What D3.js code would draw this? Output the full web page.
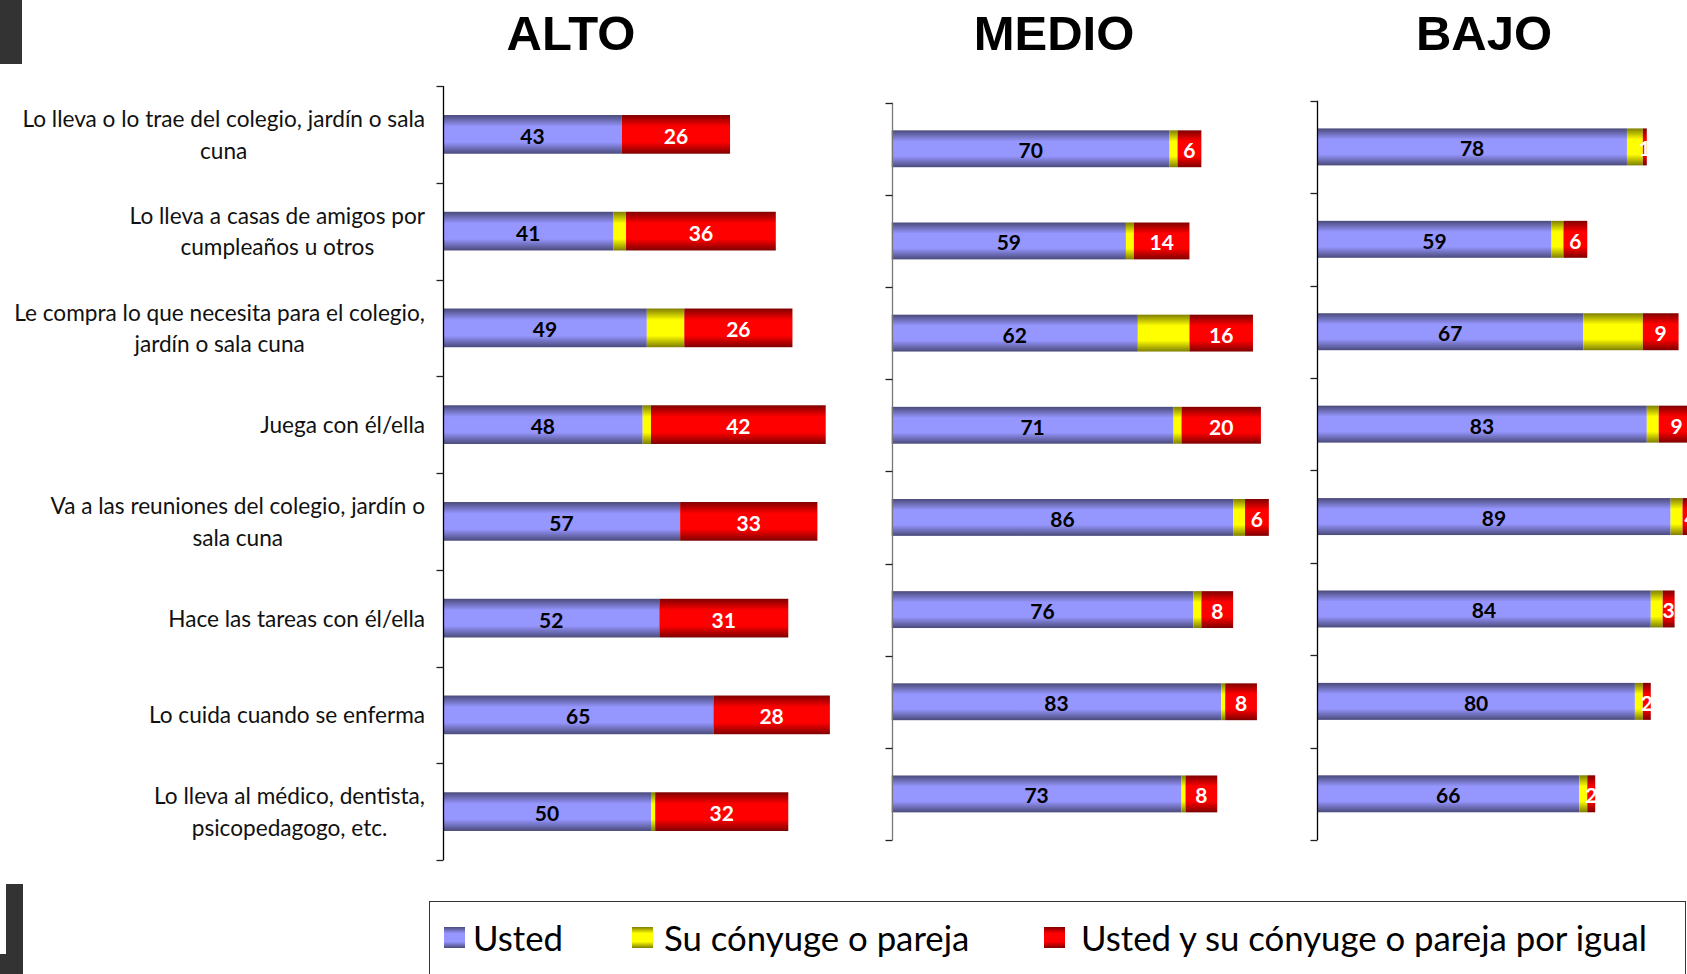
<!DOCTYPE html>
<html><head><meta charset="utf-8">
<script src="https://cdn.jsdelivr.net/npm/d3@7"></script>
<style>body{margin:0;background:#fff;overflow:hidden}svg{display:block}</style>
</head><body><svg id="c" width="1687" height="974"></svg>
<script>
// ---------- DATA ----------
const categoryLabels = [
  ["Lo lleva o lo trae del colegio, jardín o sala", "cuna"],
  ["Lo lleva a casas de amigos por", "cumpleaños u otros"],
  ["Le compra lo que necesita para el colegio,", "jardín o sala cuna"],
  ["Juega con él/ella"],
  ["Va a las reuniones del colegio, jardín o", "sala cuna"],
  ["Hace las tareas con él/ella"],
  ["Lo cuida cuando se enferma"],
  ["Lo lleva al médico, dentista,", "psicopedagogo, etc."]
];
const panelTitles = ["ALTO", "MEDIO", "BAJO"];
const seriesNames = ["Usted", "Su cónyuge o pareja", "Usted y su cónyuge o pareja por igual"];

const ustedAlto   = [43, 41, 49, 48, 57, 52, 65, 50];
const conyugeAlto = [0, 3, 9, 2, 0, 0, 0, 1];
const igualAlto   = [26, 36, 26, 42, 33, 31, 28, 32];

const ustedMedio   = [70, 59, 62, 71, 86, 76, 83, 73];
const conyugeMedio = [2, 2, 13, 2, 3, 2, 1, 1];
const igualMedio   = [6, 14, 16, 20, 6, 8, 8, 8];

const ustedBajo   = [78, 59, 67, 83, 89, 84, 80, 66];
const conyugeBajo = [4, 3, 15, 3, 3, 3, 2, 2];
const igualBajo   = [1, 6, 9, 9, 4, 3, 2, 2];

// ---------- LAYOUT ----------
const svg = d3.select("#c");
const W = 1687, H = 974;
svg.append("rect").attr("width", W).attr("height", H).attr("fill", "#fff");

const keys = ["usted", "conyuge", "igual"];
const colors = {
  usted:   {dark: "#4a4a7a", light: "#9696ff"},
  conyuge: {dark: "#7f7f00", light: "#ffff00"},
  igual:   {dark: "#7f0000", light: "#ff0000"}
};
const defs = svg.append("defs");
keys.forEach(k => {
  const g = defs.append("linearGradient").attr("id", "g-" + k)
    .attr("x1", 0).attr("y1", 0).attr("x2", 0).attr("y2", 1);
  [[0, colors[k].dark], [0.3, colors[k].light], [0.7, colors[k].light], [1, colors[k].dark]]
    .forEach(([o, c]) => g.append("stop").attr("offset", o).attr("stop-color", c));
});

function rows(u, c, i) {
  return u.map((v, j) => ({cat: j, usted: v, conyuge: c[j], igual: i[j]}));
}
const panels = [
  {title: panelTitles[0], data: rows(ustedAlto, conyugeAlto, igualAlto),
   xr: [443, 859], yr: [86, 860], titleX: 571, axisColor: "#000"},
  {title: panelTitles[1], data: rows(ustedMedio, conyugeMedio, igualMedio),
   xr: [891.7, 1288.7], yr: [102.7, 840], titleX: 1054, axisColor: "#777"},
  {title: panelTitles[2], data: rows(ustedBajo, conyugeBajo, igualBajo),
   xr: [1317.3, 1714.3], yr: [100.7, 840], titleX: 1484, axisColor: "#000"}
];

const stack = d3.stack().keys(keys);
const catIdx = d3.range(categoryLabels.length);

panels.forEach((p, pi) => {
  const x = d3.scaleLinear().domain([0, 100]).range(p.xr);
  const y = d3.scaleBand().domain(catIdx).range(p.yr).paddingInner(0.6).paddingOuter(0.3);
  const g = svg.append("g");

  // title
  svg.append("text").attr("x", p.titleX).attr("y", 50)
    .attr("text-anchor", "middle")
    .style("font-family", "'Liberation Sans', Arial, sans-serif")
    .style("font-weight", "bold").style("font-size", "49px")
    .text(p.title);

  // bars
  const series = stack(p.data);
  series.forEach(s => {
    g.selectAll(null).data(s).join("rect")
      .attr("x", d => x(d[0]))
      .attr("y", d => y(d.data.cat))
      .attr("width", d => Math.max(0, x(d[1]) - x(d[0])))
      .attr("height", y.bandwidth())
      .attr("fill", "url(#g-" + s.key + ")");
  });
  // value labels (usted & igual)
  series.filter(s => s.key !== "conyuge").forEach(s => {
    g.selectAll(null).data(s.filter(d => d[1] - d[0] > 0)).join("text")
      .attr("x", d => (x(d[0]) + x(d[1])) / 2)
      .attr("y", d => y(d.data.cat) + y.bandwidth() / 2)
      .attr("dy", "0.45em")
      .attr("text-anchor", "middle")
      .style("font-family", "Lato, 'Open Sans', sans-serif")
      .style("font-weight", "bold").style("font-size", "21px")
      .attr("fill", s.key === "usted" ? "#000" : "#fff")
      .text(d => d3.format(".0f")(d[1] - d[0]));
  });

  // axis
  const ax = svg.append("g");
  const x0 = Math.round(p.xr[0]) + 0.5;
  ax.append("line").attr("x1", x0).attr("x2", x0)
    .attr("y1", p.yr[0]).attr("y2", p.yr[1])
    .attr("stroke", p.axisColor).attr("stroke-width", 1.3);
  d3.range(categoryLabels.length + 1).forEach(i => {
    const ty = Math.round(p.yr[0] + i * y.step()) + 0.5;
    ax.append("line").attr("x1", x0 - 7).attr("x2", x0)
      .attr("y1", ty).attr("y2", ty).attr("stroke", "#222").attr("stroke-width", 1.3);
  });

  // category labels (first panel only)
  if (pi === 0) {
    const lab = svg.append("g")
      .style("font-family", "Lato, 'Open Sans', sans-serif")
      .style("font-size", "20px").attr("fill", "#111");
    const probe = lab.append("text").text(categoryLabels[0][0]);
    const w0 = probe.node().getComputedTextLength();
    probe.remove();
    const fs = 20 * 403 / w0;
    lab.style("font-size", fs + "px");
    const right = 425, lh = 31.5;
    categoryLabels.forEach((lines, j) => {
      const cy = y(j) + y.bandwidth() / 2;
      const t = lab.append("text").attr("text-anchor", "middle");
      const spans = lines.map((ln, k) => t.append("tspan").text(ln)
        .attr("y", cy + (k - (lines.length - 1) / 2) * lh).attr("dy", "0.38em"));
      const maxW = d3.max(spans, s => s.node().getComputedTextLength());
      spans.forEach(s => s.attr("x", right - maxW / 2));
    });
  }
});

// ---------- LEGEND ----------
const lg = svg.append("g");
lg.append("rect").attr("x", 429.5).attr("y", 901.5).attr("width", 1256).attr("height", 120)
  .attr("fill", "#fff").attr("stroke", "#333").attr("stroke-width", 1);
const legendItems = [
  {key: "usted", sx: 444, tx: 473},
  {key: "conyuge", sx: 632, tx: 664},
  {key: "igual", sx: 1044, tx: 1081}
];
const lgText = lg.append("g").style("font-family", "Lato, 'Open Sans', sans-serif")
  .style("font-size", "32px").attr("fill", "#000");
const probe2 = lgText.append("text").text(seriesNames[2]);
const lw = probe2.node().getComputedTextLength();
probe2.remove();
lgText.style("font-size", (32 * 566 / lw) + "px");
legendItems.forEach((it, i) => {
  lg.append("rect").attr("x", it.sx).attr("y", 927).attr("width", 21).attr("height", 21)
    .attr("fill", "url(#g-" + it.key + ")");
  lgText.append("text").attr("x", it.tx).attr("y", 938).attr("dy", "0.38em").text(seriesNames[i]);
});

// ---------- decorative dark blocks on the left edge ----------
svg.append("rect").attr("x", 0).attr("y", 0).attr("width", 22).attr("height", 64).attr("fill", "#333");
svg.append("rect").attr("x", 6).attr("y", 884).attr("width", 17).attr("height", 90).attr("fill", "#333");
svg.append("rect").attr("x", 0).attr("y", 954).attr("width", 23).attr("height", 20).attr("fill", "#333");
</script>
</body></html>
